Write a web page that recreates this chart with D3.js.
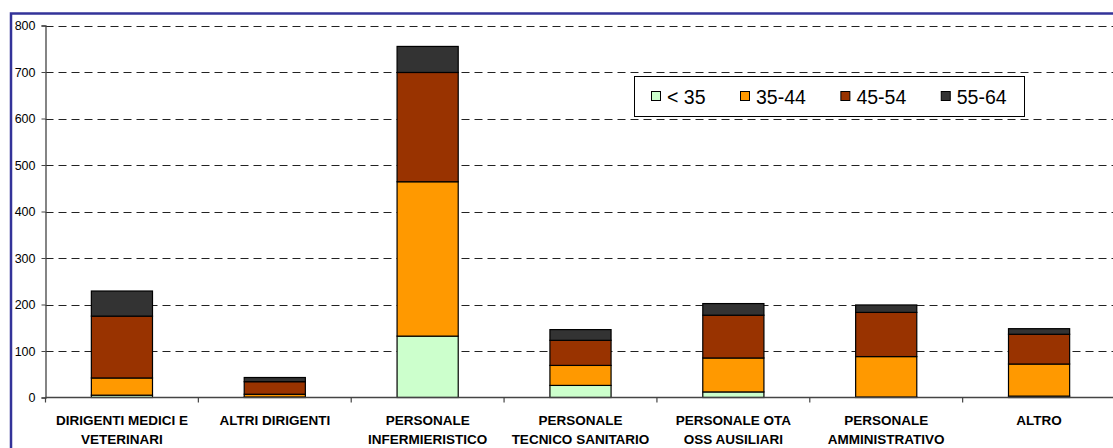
<!DOCTYPE html>
<html>
<head>
<meta charset="utf-8">
<script src="https://cdn.jsdelivr.net/npm/d3@7"></script>
<style>
  html, body { margin: 0; padding: 0; background: #fff; }
  svg { display: block; }
  text { font-family: "Liberation Sans", Arial, sans-serif; }
</style>
</head>
<body>
<svg id="chart" width="1113" height="448"></svg>
<script>
// Staff categories (each entry holds its label lines)
const categories = [
  ["DIRIGENTI MEDICI E", "VETERINARI"],
  ["ALTRI DIRIGENTI"],
  ["PERSONALE", "INFERMIERISTICO"],
  ["PERSONALE", "TECNICO SANITARIO"],
  ["PERSONALE OTA", "OSS AUSILIARI"],
  ["PERSONALE", "AMMINISTRATIVO"],
  ["ALTRO"]
];

// Age bands and their head counts per category
const ageBands = ["< 35", "35-44", "45-54", "55-64"];
const under35 = [5, 1, 132, 26, 12, 1, 3];
const age35_44 = [37, 6, 332, 43, 73, 87, 69];
const age45_54 = [133, 27, 235, 54, 92, 95, 64];
const age55_64 = [54, 9, 56, 23, 25, 16, 12];

const yTicks = [0, 100, 200, 300, 400, 500, 600, 700, 800];
const bandColors = ["#CCFFCC", "#FF9900", "#993300", "#333333"];

const series = [under35, age35_44, age45_54, age55_64];
const rows = categories.map((c, i) => {
  const r = { key: c.join(" ") };
  ageBands.forEach((b, j) => { r[b] = series[j][i]; });
  return r;
});

const svg = d3.select("#chart");

const x = d3.scaleBand()
  .domain(rows.map(r => r.key))
  .range([45.5, 1115.5])
  .paddingInner(0.6)
  .paddingOuter(0.3);

const y = d3.scaleLinear().domain([0, 800]).range([397.5, 25.5]);

// Outer chart frame (left and top edges visible)
svg.append("path")
  .attr("d", "M11,460 V13.5 H1130")
  .attr("fill", "none")
  .attr("stroke", "#333399")
  .attr("stroke-width", 2.5);

// Dashed horizontal gridlines
svg.append("g")
  .selectAll("line")
  .data(yTicks.filter(t => t > 0))
  .join("line")
  .attr("x1", 45.5).attr("x2", 1113)
  .attr("y1", d => Math.round(y(d)) + 0.5)
  .attr("y2", d => Math.round(y(d)) + 0.5)
  .attr("stroke", "#222")
  .attr("stroke-width", 1)
  .attr("stroke-dasharray", "8,5");

// Stacked bars
const stacked = d3.stack().keys(ageBands)(rows);
svg.append("g")
  .selectAll("g")
  .data(stacked)
  .join("g")
  .attr("fill", (d, i) => bandColors[i])
  .selectAll("rect")
  .data(d => d.map(p => ({ p, key: p.data.key })))
  .join("rect")
  .attr("x", d => x(d.key))
  .attr("width", x.bandwidth())
  .attr("y", d => y(d.p[1]))
  .attr("height", d => Math.max(0, y(d.p[0]) - y(d.p[1])))
  .attr("stroke", "#000")
  .attr("stroke-width", 1.2);

// Y axis
const yAxis = d3.axisLeft(y).tickValues(yTicks).tickSize(4).tickPadding(6);
const gy = svg.append("g").attr("transform", "translate(45.5,0)").call(yAxis);
gy.select(".domain").attr("stroke", "#444").attr("stroke-width", 1.3);
gy.selectAll(".tick line").attr("stroke", "#444");
gy.selectAll(".tick text")
  .attr("font-size", 12.5)
  .attr("fill", "#000")
  .attr("font-family", "'Liberation Sans', Arial, sans-serif");

// X axis baseline with category separator ticks
svg.append("line")
  .attr("x1", 45.5).attr("x2", 1113)
  .attr("y1", y(0)).attr("y2", y(0))
  .attr("stroke", "#444").attr("stroke-width", 1.3);

const step = x.step();
svg.append("g")
  .selectAll("line")
  .data(d3.range(categories.length + 1))
  .join("line")
  .attr("x1", i => 45.5 + i * step)
  .attr("x2", i => 45.5 + i * step)
  .attr("y1", y(0)).attr("y2", y(0) + 5)
  .attr("stroke", "#444").attr("stroke-width", 1.2);

// Category labels
const labels = svg.append("g")
  .selectAll("text")
  .data(categories)
  .join("text")
  .attr("x", (c, i) => x(rows[i].key) + x.bandwidth() / 2)
  .attr("y", 425)
  .attr("text-anchor", "middle")
  .attr("font-size", 13.5)
  .attr("font-weight", "bold")
  .attr("fill", "#000");
labels.selectAll("tspan")
  .data(c => c)
  .join("tspan")
  .attr("x", function () { return d3.select(this.parentNode).attr("x"); })
  .attr("dy", (d, i) => i === 0 ? 0 : 19)
  .text(d => d);

// Legend: entries laid out left to right, each advancing by its text width
const legend = svg.append("g");
legend.append("rect")
  .attr("x", 634.5).attr("y", 76.5)
  .attr("width", 390).attr("height", 40)
  .attr("fill", "#fff")
  .attr("stroke", "#000")
  .attr("stroke-width", 1);
let cursor = 651;
ageBands.forEach((band, i) => {
  const item = legend.append("g").attr("transform", `translate(${cursor},0)`);
  item.append("rect")
    .attr("x", 0.5).attr("y", 91.5)
    .attr("width", 9).attr("height", 9)
    .attr("fill", bandColors[i])
    .attr("stroke", "#000")
    .attr("stroke-width", 1);
  const t = item.append("text")
    .attr("x", 16)
    .attr("y", 103.5)
    .attr("font-size", 19.5)
    .attr("fill", "#000")
    .text(band);
  cursor += 16 + t.node().getComputedTextLength() + 34.5;
});
</script>
</body>
</html>
